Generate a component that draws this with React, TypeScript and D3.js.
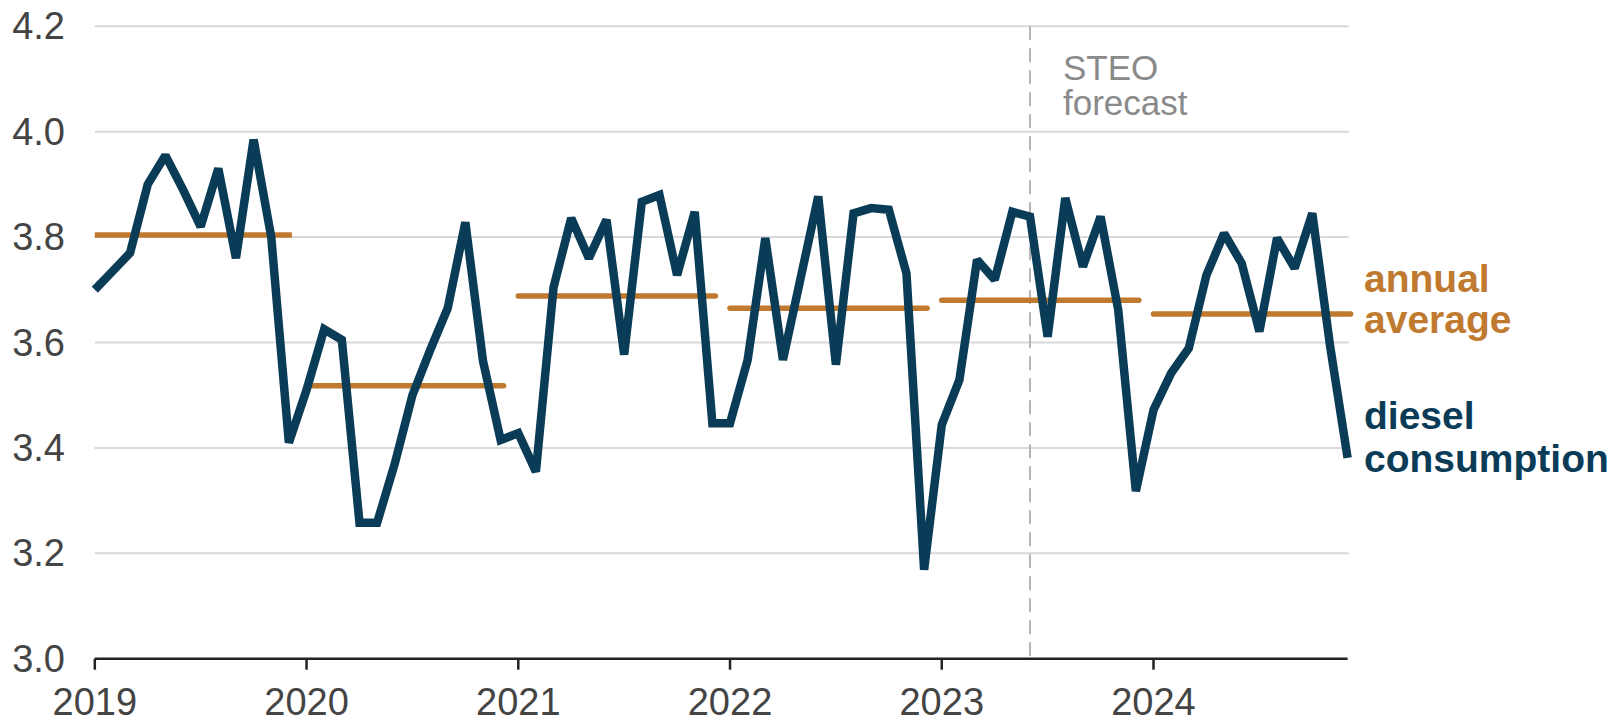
import React from "react";
import * as d3 from "d3";

const years = [2019, 2020, 2021, 2022, 2023, 2024];
const yTicks = [3.0, 3.2, 3.4, 3.6, 3.8, 4.0, 4.2];

const diesel2019 = [3.70, 3.735, 3.77, 3.90, 3.955, 3.89, 3.82, 3.93, 3.76, 3.985, 3.80, 3.41];
const diesel2020 = [3.51, 3.625, 3.605, 3.258, 3.258, 3.37, 3.50, 3.585, 3.665, 3.828, 3.565, 3.415];
const diesel2021 = [3.428, 3.355, 3.705, 3.836, 3.76, 3.833, 3.577, 3.867, 3.88, 3.728, 3.848, 3.447];
const diesel2022 = [3.447, 3.567, 3.798, 3.567, 3.722, 3.877, 3.558, 3.845, 3.855, 3.852, 3.731, 3.169];
const diesel2023 = [3.444, 3.529, 3.757, 3.719, 3.848, 3.839, 3.611, 3.874, 3.744, 3.839, 3.662, 3.318];
const diesel2024 = [3.472, 3.542, 3.589, 3.728, 3.807, 3.75, 3.621, 3.798, 3.741, 3.845, 3.595, 3.381];

const annualAverage = [3.804, 3.518, 3.688, 3.665, 3.68, 3.654];

const forecastStartMonth = 53; // June 2023 (month index from Jan 2019)

const BLUE = "#0b3c57";
const ORANGE = "#c07a30";
const FONT = "'Liberation Sans', Arial, Helvetica, sans-serif";

export default function App() {
  const W = 1618;
  const H = 717;
  const monthly = [
    ...diesel2019,
    ...diesel2020,
    ...diesel2021,
    ...diesel2022,
    ...diesel2023,
    ...diesel2024,
  ];
  const data = monthly.map((v, i) => ({ i, v }));

  const x = d3.scaleLinear().domain([0, 71]).range([94.8, 1347.6]);
  const y = d3.scaleLinear().domain([3.0, 4.2]).range([658.7, 26.3]);

  const line = d3
    .line<{ i: number; v: number }>()
    .x((d) => x(d.i))
    .y((d) => y(d.v));

  const xLeft = x(0);
  const xRight = x(71);

  return (
    <svg
      width={W}
      height={H}
      style={{ position: "absolute", left: 0, top: 0, background: "#fff" }}
      fontFamily={FONT}
    >
      {/* gridlines */}
      {yTicks
        .filter((t) => t > 3.0)
        .map((t) => (
          <line
            key={t}
            x1={xLeft}
            x2={xRight + 1}
            y1={y(t)}
            y2={y(t)}
            stroke="#d9d9d9"
            strokeWidth={2}
          />
        ))}
      {/* y tick labels */}
      {yTicks.map((t) => (
        <text
          key={"yl" + t}
          x={65}
          y={y(t)}
          textAnchor="end"
          dominantBaseline="central"
          fontSize={38}
          fill="#444"
        >
          {t.toFixed(1)}
        </text>
      ))}
      {/* forecast divider */}
      <line
        x1={x(forecastStartMonth)}
        x2={x(forecastStartMonth)}
        y1={y(4.2)}
        y2={y(3.0)}
        stroke="#b5b5b5"
        strokeWidth={2}
        strokeDasharray="14 8"
      />
      <text x={1063} y={79.5} fontSize={35} fill="#8a8a8a">
        STEO
      </text>
      <text x={1063} y={115} fontSize={35} fill="#8a8a8a">
        forecast
      </text>
      {/* annual averages */}
      {annualAverage.map((a, k) => (
        <line
          key={"avg" + k}
          x1={x(k * 12)}
          x2={x(k * 12 + 11) + 3}
          y1={y(a)}
          y2={y(a)}
          stroke={ORANGE}
          strokeWidth={5.5}
          strokeLinecap={k === 0 ? "butt" : "round"}
        />
      ))}
      {/* diesel line */}
      <path
        d={line(data) || ""}
        fill="none"
        stroke={BLUE}
        strokeWidth={8.5}
        strokeLinejoin="miter"
        strokeMiterlimit={2}
      />
      {/* x axis */}
      <line x1={xLeft} x2={xRight} y1={y(3.0)} y2={y(3.0)} stroke="#222" strokeWidth={2.5} />
      {years.map((yr, k) => (
        <g key={yr}>
          <line
            x1={x(k * 12)}
            x2={x(k * 12)}
            y1={y(3.0)}
            y2={y(3.0) + 11}
            stroke="#222"
            strokeWidth={2.5}
          />
          <text x={x(k * 12)} y={715} textAnchor="middle" fontSize={38} fill="#444">
            {yr}
          </text>
        </g>
      ))}
      {/* labels */}
      <text x={1364} y={292} fontSize={39} fontWeight="bold" fill={ORANGE}>
        annual
      </text>
      <text x={1364} y={333} fontSize={39} fontWeight="bold" fill={ORANGE}>
        average
      </text>
      <text x={1364} y={429} fontSize={39} fontWeight="bold" fill={BLUE}>
        diesel
      </text>
      <text x={1364} y={472} fontSize={39} fontWeight="bold" fill={BLUE}>
        consumption
      </text>
    </svg>
  );
}
